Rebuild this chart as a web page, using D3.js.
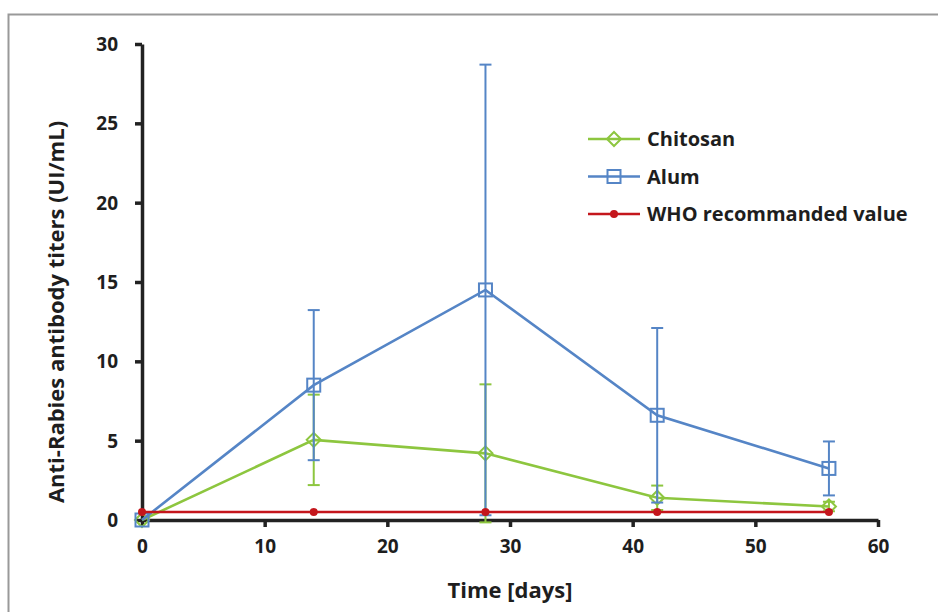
<!DOCTYPE html>
<html><head><meta charset="utf-8">
<script src="https://cdn.jsdelivr.net/npm/d3@7"></script>
<style>body{margin:0;background:#fff}svg{display:block}text{font-family:"Open Sans",Lato,sans-serif;font-weight:bold;fill:#1e1e1e}</style>
</head><body><svg id="c" width="938" height="612"></svg>
<script>
const days = [0, 14, 28, 42, 56];
const chitosan = [0, 5.05, 4.2, 1.4, 0.85];
const chitosanErr = [0, 2.85, 4.35, 0.77, 0.3];
const alum = [0, 8.5, 14.5, 6.6, 3.25];
const alumErr = [0, 4.73, 14.2, 5.5, 1.7];
const who = [0.5, 0.5, 0.5, 0.5, 0.5];
const xTicks = [0, 10, 20, 30, 40, 50, 60];
const yTicks = [0, 5, 10, 15, 20, 25, 30];
const seriesNames = ["Chitosan", "Alum", "WHO recommanded value"];
const colors = {green: "#8dc63f", blue: "#5585c6", red: "#c4161c"};

const svg = d3.select("#c");
svg.append("rect").attr("x", 8.5).attr("y", 14.5).attr("width", 1000).attr("height", 700)
  .attr("fill", "#fff").attr("stroke", "#999").attr("stroke-width", 2);

const x = d3.scaleLinear().domain([0, 60]).range([142, 878]);
const y = d3.scaleLinear().domain([0, 30]).range([520, 44]);

const xAxis = svg.append("g").attr("transform", "translate(0,520)")
  .call(d3.axisBottom(x).tickValues(xTicks).tickSize(7).tickPadding(13).tickSizeOuter(0));
const yAxis = svg.append("g").attr("transform", "translate(142,0)")
  .call(d3.axisLeft(y).tickValues(yTicks).tickSize(7).tickPadding(17).tickSizeOuter(0));
[xAxis, yAxis].forEach(g => {
  g.select(".domain").attr("stroke", "#222").attr("stroke-width", 3.5);
  g.selectAll(".tick line").attr("stroke", "#222").attr("stroke-width", 3.5);
  g.selectAll(".tick text").style("font-size", "19px").attr("fill", "#1e1e1e")
    .style("font-family", "'Open Sans', sans-serif").style("font-weight", "bold");
});
yAxis.selectAll(".tick text").attr("dy", "0.35em");

svg.append("text").attr("x", 510).attr("y", 598).attr("text-anchor", "middle")
  .style("font-size", "22px").text("Time [days]");
svg.append("text").attr("transform", "translate(64,312) rotate(-90)").attr("text-anchor", "middle")
  .style("font-size", "22px").text("Anti-Rabies antibody titers (UI/mL)");

const line = d3.line().x((d, i) => x(days[i])).y(d => y(d));

function drawSeries(vals, errs, color, shape) {
  const g = svg.append("g");
  vals.forEach((v, i) => {
    if (!errs || errs[i] === 0) return;
    const cx = x(days[i]);
    const y1 = y(v + errs[i]), y0 = y(v - errs[i]);
    g.append("line").attr("x1", cx).attr("x2", cx).attr("y1", y1).attr("y2", y0)
      .attr("stroke", color).attr("stroke-width", 2);
    [y1, y0].forEach(yy => g.append("line").attr("x1", cx - 6).attr("x2", cx + 6)
      .attr("y1", yy).attr("y2", yy).attr("stroke", color).attr("stroke-width", 2));
  });
  g.append("path").datum(vals).attr("d", line).attr("fill", "none")
    .attr("stroke", color).attr("stroke-width", 2.6);
  vals.forEach((v, i) => drawMarker(g, x(days[i]), y(v), color, shape));
}
function drawMarker(g, cx, cy, color, shape) {
  if (shape === "diamond") {
    g.append("path").attr("d", `M${cx},${cy - 7}L${cx + 7},${cy}L${cx},${cy + 7}L${cx - 7},${cy}Z`)
      .attr("fill", "none").attr("stroke", color).attr("stroke-width", 2);
  } else if (shape === "square") {
    g.append("rect").attr("x", cx - 6.5).attr("y", cy - 6.5).attr("width", 13).attr("height", 13)
      .attr("fill", "none").attr("stroke", color).attr("stroke-width", 2);
  } else {
    g.append("circle").attr("cx", cx).attr("cy", cy).attr("r", 4).attr("fill", color);
  }
}
drawSeries(chitosan, chitosanErr, colors.green, "diamond");
drawSeries(alum, alumErr, colors.blue, "square");
drawSeries(who, null, colors.red, "circle");

const legend = [[colors.green, "diamond"], [colors.blue, "square"], [colors.red, "circle"]];
legend.forEach((l, i) => {
  const ly = 139 + i * 37.5;
  const g = svg.append("g");
  g.append("line").attr("x1", 588).attr("x2", 640).attr("y1", ly).attr("y2", ly)
    .attr("stroke", l[0]).attr("stroke-width", 2.6);
  drawMarker(g, 614, ly, l[0], l[1]);
  g.append("text").attr("x", 647).attr("y", ly).attr("dy", "0.35em")
    .style("font-size", "20px").text(seriesNames[i]);
});
</script></body></html>
